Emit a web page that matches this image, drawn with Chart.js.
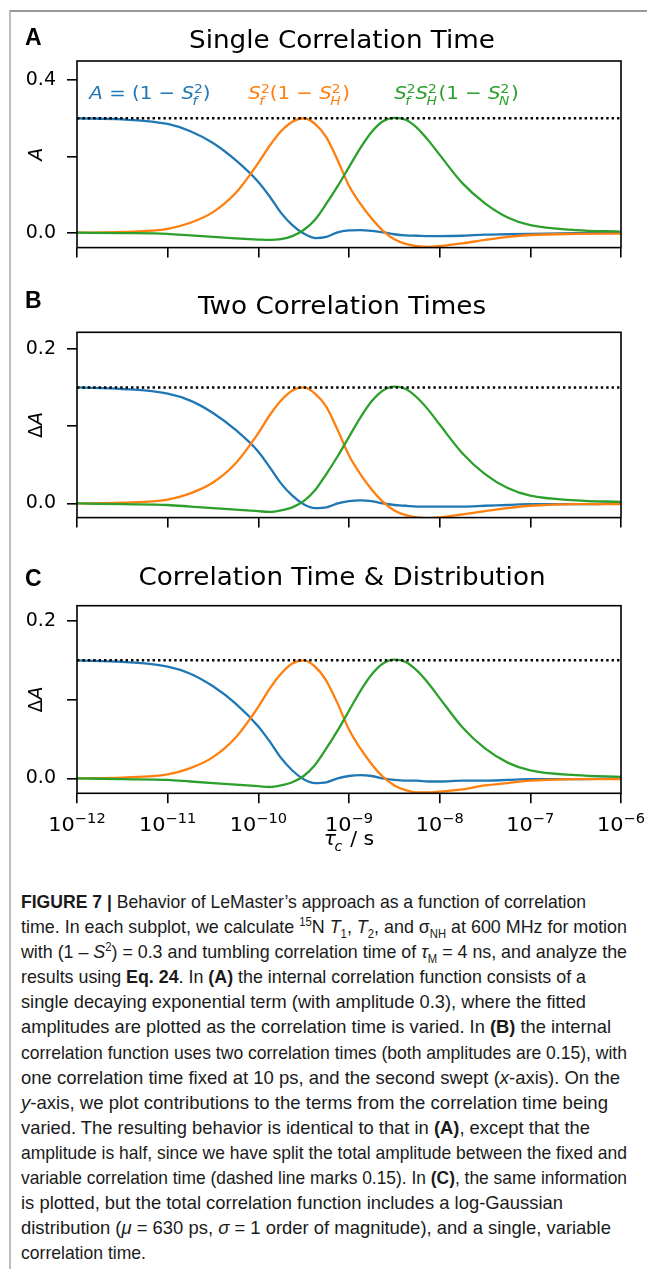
<!DOCTYPE html>
<html>
<head>
<meta charset="utf-8">
<script src="https://cdn.jsdelivr.net/npm/chart.js@4.4.1/dist/chart.umd.min.js"></script>
<style>
html, body { margin: 0; padding: 0; background: #fff; }
#page { position: relative; width: 647px; height: 1269px; overflow: hidden; background: #fff; }
#frame { position: absolute; left: 9px; top: 9.5px; width: 650px; height: 1280px;
         border-left: 2px solid #bdbdbd; border-top: 2px solid #9a9a9a; }
canvas { position: absolute; left: 0; }
#caption { position: absolute; left: 21px; top: 889px; font-family: "Liberation Sans", Arial, sans-serif;
           font-size: 19px; line-height: 25.1px; color: #1a1a1a; }
#caption div { white-space: nowrap; height: 25.1px; }
#caption span.ln { display: inline-block; transform-origin: 0 50%; }
sup, sub { font-size: 12px; line-height: 0; }
</style>
</head>
<body>
<div id="page">
  <div id="frame"></div>
  <canvas id="chartA" width="647" height="270" style="top:0px"></canvas>
  <canvas id="chartB" width="647" height="270" style="top:270px"></canvas>
  <canvas id="chartC" width="647" height="329" style="top:540px"></canvas>
  <div id="caption">
    <div><span class="ln"><b>FIGURE 7 |</b> Behavior of LeMaster’s approach as a function of correlation</span></div>
    <div><span class="ln">time. In each subplot, we calculate <sup>15</sup>N <i>T</i><sub>1</sub>, <i>T</i><sub>2</sub>, and σ<sub>NH</sub> at 600 MHz for motion</span></div>
    <div><span class="ln">with (1 – <i>S</i><sup>2</sup>) = 0.3 and tumbling correlation time of <i>τ</i><sub>M</sub> = 4 ns, and analyze the</span></div>
    <div><span class="ln">results using <b>Eq. 24</b>. In <b>(A)</b> the internal correlation function consists of a</span></div>
    <div><span class="ln">single decaying exponential term (with amplitude 0.3), where the fitted</span></div>
    <div><span class="ln">amplitudes are plotted as the correlation time is varied. In <b>(B)</b> the internal</span></div>
    <div><span class="ln">correlation function uses two correlation times (both amplitudes are 0.15), with</span></div>
    <div><span class="ln">one correlation time fixed at 10 ps, and the second swept (<i>x</i>-axis). On the</span></div>
    <div><span class="ln"><i>y</i>-axis, we plot contributions to the terms from the correlation time being</span></div>
    <div><span class="ln">varied. The resulting behavior is identical to that in <b>(A)</b>, except that the</span></div>
    <div><span class="ln">amplitude is half, since we have split the total amplitude between the fixed and</span></div>
    <div><span class="ln">variable correlation time (dashed line marks 0.15). In <b>(C)</b>, the same information</span></div>
    <div><span class="ln">is plotted, but the total correlation function includes a log-Gaussian</span></div>
    <div><span class="ln">distribution (<i>μ</i> = 630 ps, <i>σ</i> = 1 order of magnitude), and a single, variable</span></div>
    <div><span class="ln">correlation time.</span></div>
  </div>
</div>
<script>
// x values are log10(tau_c / s)
const logTau = [-12, -11.5, -11, -10.75, -10.5, -10.25, -10, -9.875, -9.75, -9.625, -9.5, -9.375, -9.25, -9.125,
                -9, -8.875, -8.75, -8.625, -8.5, -8.375, -8.25, -8.125, -8, -7.75, -7.5, -7.25, -7, -6.5, -6];

// (A) single correlation time
const blueA   = [0.300, 0.297, 0.285, 0.266, 0.235, 0.190, 0.133, 0.095, 0.052, 0.020, -0.002, -0.014, -0.011, 0.001,
                 0.006, 0.007, 0.005, 0.001, -0.004, -0.007, -0.008, -0.009, -0.009, -0.008, -0.005, -0.004, -0.003, -0.001, 0.000];
const orangeA = [0.000, 0.002, 0.010, 0.026, 0.054, 0.104, 0.183, 0.228, 0.266, 0.291, 0.300, 0.285, 0.250, 0.190,
                 0.123, 0.076, 0.037, 0.005, -0.017, -0.029, -0.035, -0.037, -0.035, -0.028, -0.019, -0.011, -0.006, -0.003, -0.002];
const greenA  = [0.000, -0.001, -0.003, -0.007, -0.011, -0.015, -0.018, -0.019, -0.017, -0.009, 0.007, 0.034, 0.076, 0.122,
                 0.172, 0.222, 0.264, 0.292, 0.301, 0.296, 0.275, 0.242, 0.204, 0.130, 0.077, 0.040, 0.020, 0.007, 0.003];

// (B) two correlation times
const blueB   = [0.150, 0.148, 0.142, 0.133, 0.117, 0.095, 0.067, 0.047, 0.026, 0.010, -0.001, -0.006, -0.005, 0.000,
                 0.003, 0.004, 0.003, 0.000, -0.002, -0.003, -0.004, -0.004, -0.004, -0.004, -0.003, -0.002, -0.001, -0.001, 0.000];
const orangeB = [0.000, 0.001, 0.005, 0.013, 0.027, 0.052, 0.091, 0.114, 0.133, 0.146, 0.150, 0.142, 0.125, 0.095,
                 0.062, 0.038, 0.018, 0.002, -0.009, -0.015, -0.018, -0.019, -0.018, -0.014, -0.010, -0.006, -0.003, -0.001, -0.001];
const greenB  = [0.000, -0.001, -0.002, -0.004, -0.006, -0.008, -0.010, -0.011, -0.009, -0.005, 0.003, 0.017, 0.038, 0.061,
                 0.086, 0.111, 0.132, 0.146, 0.151, 0.148, 0.137, 0.121, 0.102, 0.065, 0.038, 0.020, 0.010, 0.004, 0.002];

// (C) correlation time & distribution
const blueC   = [0.150, 0.148, 0.142, 0.133, 0.117, 0.095, 0.066, 0.047, 0.026, 0.010, -0.001, -0.006, -0.005, 0.000,
                 0.003, 0.004, 0.003, 0.000, -0.002, -0.003, -0.003, -0.004, -0.004, -0.003, -0.003, -0.002, -0.001, -0.001, 0.000];
const orangeC = [0.000, 0.001, 0.005, 0.013, 0.027, 0.052, 0.091, 0.114, 0.133, 0.146, 0.150, 0.142, 0.124, 0.095,
                 0.062, 0.038, 0.018, 0.002, -0.009, -0.015, -0.018, -0.018, -0.017, -0.014, -0.009, -0.006, -0.003, -0.001, -0.001];
const greenC  = [0.000, -0.001, -0.002, -0.004, -0.006, -0.008, -0.010, -0.011, -0.009, -0.005, 0.003, 0.017, 0.038, 0.061,
                 0.086, 0.111, 0.132, 0.146, 0.151, 0.148, 0.137, 0.121, 0.102, 0.065, 0.038, 0.020, 0.010, 0.004, 0.002];

// dotted reference levels
const refA = 0.3;
const refBC = 0.15;

// ticks
const xTicks = [-12, -11, -10, -9, -8, -7, -6];
const xTickLabels = ['−12', '−11', '−10', '−9', '−8', '−7', '−6'];
const yTicksA = [0, 0.2, 0.4];
const yTickLabelsA = ['0.0', '', '0.4'];
const yTicksBC = [0, 0.1, 0.2];
const yTickLabelsBC = ['0.0', '', '0.2'];

// caption line right edges (px)
const captionEnds = [586, 627, 627, 586, 586, 611, 627, 620, 608, 590, 627, 627, 563, 611, 146];

const BLUE = '#1f77b4', ORANGE = '#ff7f0e', GREEN = '#2ca02c';
const SX = 1.07;

function fontFor(it, size) {
    return (it ? 'italic ' : '') + size + 'px "DejaVu Sans"';
}

function runsWidth(ctx, runs, size) {
    let w = 0;
    for (const r of runs) {
        ctx.font = fontFor(r.i, size);
        w += ctx.measureText(r.t).width;
        let sw = 0;
        if (r.sup) { ctx.font = fontFor(false, size * 0.7); sw = ctx.measureText(r.sup).width; }
        if (r.sub) { ctx.font = fontFor(true, size * 0.7); sw = Math.max(sw, ctx.measureText(r.sub).width); }
        w += sw;
    }
    return w;
}

// draw a row of text runs with simple super/subscripts
function drawRuns(ctx, x, y, runs, size, color, align, sx, supRaise) {
    ctx.save();
    ctx.fillStyle = color;
    ctx.textAlign = 'left';
    ctx.textBaseline = 'alphabetic';
    const w = runsWidth(ctx, runs, size);
    ctx.translate(x, y);
    ctx.scale(sx, 1);
    let cx = align === 'center' ? -w / 2 : 0;
    for (const r of runs) {
        ctx.font = fontFor(r.i, size);
        ctx.fillText(r.t, cx, 0);
        cx += ctx.measureText(r.t).width;
        let sw = 0;
        if (r.sup) {
            ctx.font = fontFor(false, size * 0.7);
            ctx.fillText(r.sup, cx, -size * supRaise);
            sw = ctx.measureText(r.sup).width;
        }
        if (r.sub) {
            ctx.font = fontFor(true, size * 0.7);
            ctx.fillText(r.sub, cx - (r.i ? size * 0.08 : 0), size * 0.3);
            sw = Math.max(sw, ctx.measureText(r.sub).width);
        }
        cx += sw;
    }
    ctx.restore();
}

const panelText = {
    id: 'panelText',
    afterDraw(chart, args, o) {
        const ctx = chart.ctx, a = chart.chartArea;
        const xs = chart.scales.x, ys = chart.scales.y;

        // axes frame
        ctx.save();
        ctx.strokeStyle = '#000';
        ctx.lineWidth = 1.6;
        ctx.strokeRect(a.left, a.top, a.right - a.left, a.bottom - a.top);
        ctx.restore();

        // panel letter
        ctx.save();
        ctx.fillStyle = '#000';
        ctx.font = 'bold 23px "Liberation Sans"';
        ctx.textBaseline = 'alphabetic';
        ctx.fillText(o.letter, 25, o.letterY);
        ctx.restore();

        // title
        drawRuns(ctx, 342, o.titleY, [{ t: o.title }], 24.5, '#000', 'center', SX, 0.4);

        // y label (rotated)
        ctx.save();
        ctx.translate(42, (a.top + a.bottom) / 2);
        ctx.rotate(-Math.PI / 2);
        drawRuns(ctx, 0, 0, o.yLabel, 19, '#000', 'center', 1, 0.4);
        ctx.restore();

        // in-plot labels of the three terms
        if (o.notes) {
            const base = ys.getPixelForValue(0.35);
            for (const n of o.notes) {
                const x = a.left + n.fx * (a.right - a.left);
                drawRuns(ctx, x, base, n.runs, 18.5, n.color, 'left', SX, 0.32);
            }
        }

        // x tick labels 10^n and x label
        if (o.xLabels) {
            xTicks.forEach((v, i) => {
                const px = xs.getPixelForValue(v);
                drawRuns(ctx, px, a.bottom + 37.5, [{ t: '10', sup: xTickLabels[i] }], 19.5, '#000', 'center', SX, 0.42);
            });
            drawRuns(ctx, (a.left + a.right) / 2, a.bottom + 52,
                [{ t: 'τ', i: true, sub: 'c' }, { t: ' / s' }], 19, '#000', 'center', SX, 0.4);
        }
    }
};

function pts(ys) {
    return logTau.map((x, i) => ({ x: x, y: ys[i] }));
}

function curve(ys, color, order) {
    return {
        data: pts(ys), borderColor: color, borderWidth: 2.3, pointRadius: 0,
        cubicInterpolationMode: 'monotone', fill: false, order: order
    };
}

function makePanel(id, p) {
    const canvas = document.getElementById(id);
    return new Chart(canvas, {
        type: 'line',
        data: {
            datasets: [
                {
                    data: [{ x: xTicks[0], y: p.ref }, { x: xTicks[xTicks.length - 1], y: p.ref }],
                    borderColor: '#000', borderWidth: 2.5, borderDash: [2.4, 3.0], pointRadius: 0, order: 0
                },
                curve(p.blue, BLUE, 3),
                curve(p.orange, ORANGE, 2),
                curve(p.green, GREEN, 1)
            ]
        },
        options: {
            responsive: false,
            animation: false,
            devicePixelRatio: 1,
            layout: { padding: { top: p.top, right: 26, left: 0, bottom: 0 } },
            plugins: {
                legend: { display: false },
                tooltip: { enabled: false },
                panelText: p.text
            },
            scales: {
                x: {
                    type: 'linear', min: -12, max: -6,
                    afterBuildTicks: s => { s.ticks = xTicks.map(v => ({ value: v })); },
                    afterFit: s => { s.height = p.h - p.bottom; },
                    grid: { drawOnChartArea: false, drawTicks: true, tickLength: 10, color: '#000', lineWidth: 1.6 },
                    border: { display: false },
                    ticks: { callback: () => '', autoSkip: false, maxRotation: 0 }
                },
                y: {
                    type: 'linear', min: p.ymin, max: p.ymax,
                    afterBuildTicks: s => { s.ticks = p.yTicks.map(v => ({ value: v })); },
                    afterFit: s => { s.width = 77; },
                    grid: { drawOnChartArea: false, drawTicks: true, tickLength: 10, color: '#000', lineWidth: 1.6 },
                    border: { display: false },
                    ticks: {
                        callback: (v, i) => p.yLabels[i],
                        padding: 11, color: '#000',
                        font: { family: 'DejaVu Sans', size: 19 }
                    }
                }
            }
        },
        plugins: [panelText]
    });
}

makePanel('chartA', {
    h: 270, top: 61, bottom: 248.3, ymin: -0.039, ymax: 0.45,
    yTicks: yTicksA, yLabels: yTickLabelsA, ref: refA,
    blue: blueA, orange: orangeA, green: greenA,
    text: {
        letter: 'A', letterY: 45, title: 'Single Correlation Time', titleY: 48.3,
        yLabel: [{ t: 'A', i: true }],
        notes: [
            { fx: 0.0226, color: BLUE, runs: [{ t: 'A', i: true }, { t: ' = (1 − ' }, { t: 'S', i: true, sup: '2', sub: 'f' }, { t: ')' }] },
            { fx: 0.315, color: ORANGE, runs: [{ t: 'S', i: true, sup: '2', sub: 'f' }, { t: '(1 − ' }, { t: 'S', i: true, sup: '2', sub: 'H' }, { t: ')' }] },
            { fx: 0.583, color: GREEN, runs: [{ t: 'S', i: true, sup: '2', sub: 'f' }, { t: 'S', i: true, sup: '2', sub: 'H' }, { t: '(1 − ' }, { t: 'S', i: true, sup: '2', sub: 'N' }, { t: ')' }] }
        ]
    }
});

makePanel('chartB', {
    h: 270, top: 62.3, bottom: 250, ymin: -0.0183, ymax: 0.2213,
    yTicks: yTicksBC, yLabels: yTickLabelsBC, ref: refBC,
    blue: blueB, orange: orangeB, green: greenB,
    text: {
        letter: 'B', letterY: 37.5, title: 'Two Correlation Times', titleY: 44,
        yLabel: [{ t: 'Δ' }, { t: 'A', i: true }]
    }
});

makePanel('chartC', {
    h: 329, top: 65.7, bottom: 253.3, ymin: -0.019, ymax: 0.2195,
    yTicks: yTicksBC, yLabels: yTickLabelsBC, ref: refBC,
    blue: blueC, orange: orangeC, green: greenC,
    text: {
        letter: 'C', letterY: 45.7, title: 'Correlation Time & Distribution', titleY: 45,
        yLabel: [{ t: 'Δ' }, { t: 'A', i: true }],
        xLabels: true
    }
});

// squeeze each caption line to the width it has in the figure
document.querySelectorAll('#caption span.ln').forEach((s, i) => {
    const w = s.getBoundingClientRect().width;
    const target = captionEnds[i] - 21;
    s.style.transform = 'scaleX(' + (target / w).toFixed(4) + ')';
});
</script>
</body>
</html>
